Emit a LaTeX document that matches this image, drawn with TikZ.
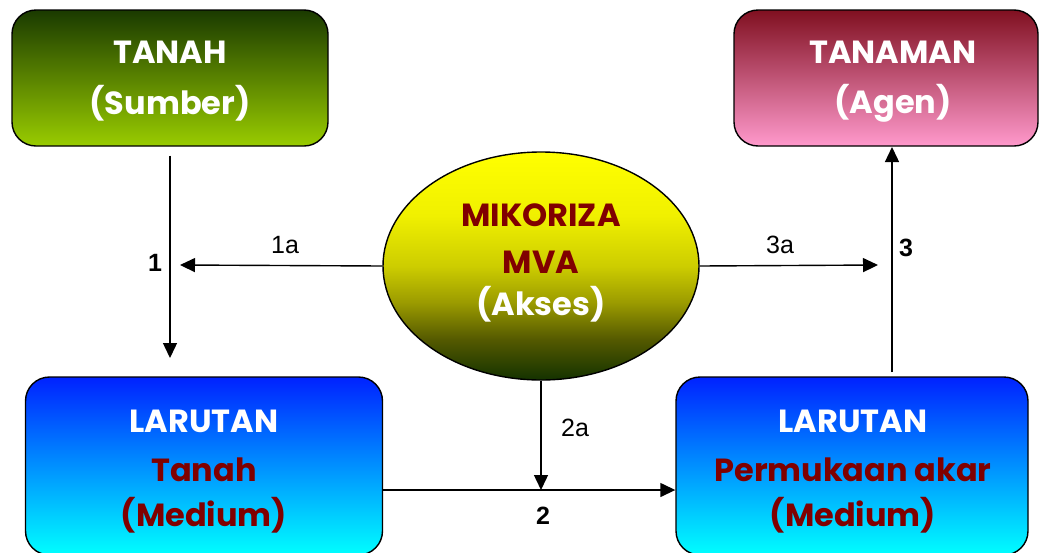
\documentclass[tikz,border=0pt]{standalone}
\usepackage{fontspec}
\setmainfont{Liberation Sans}
\newfontfamily\headfont{Poppins}[UprightFont=* SemiBold, BoldFont=* Bold]
\usetikzlibrary{arrows.meta,shapes.geometric}
\definecolor{maroonTxt}{HTML}{800000}
\definecolor{leafTop}{RGB}{26,58,0}
\definecolor{leafMid}{RGB}{95,140,0}
\definecolor{leafBot}{RGB}{153,204,0}
\definecolor{roseTop}{RGB}{128,16,32}
\definecolor{roseMid}{RGB}{200,100,140}
\definecolor{roseBot}{RGB}{255,153,204}
\definecolor{seaTop}{RGB}{0,34,255}
\definecolor{seaMid}{RGB}{0,195,255}
\definecolor{seaBot}{RGB}{0,255,255}
\definecolor{sunA}{RGB}{20,50,0}
\definecolor{sunB}{RGB}{85,90,0}
\definecolor{sunC}{RGB}{155,155,0}
\definecolor{sunD}{RGB}{205,205,0}
\definecolor{sunE}{RGB}{240,240,0}
\definecolor{sunF}{RGB}{255,255,0}
% yellow fading to dark green in the lower part of the ellipse
\pgfdeclareverticalshading{sunshade}{100bp}{color(0bp)=(sunA); color(25bp)=(sunA);
  color(34bp)=(sunB); color(42bp)=(sunC); color(50bp)=(sunD); color(61bp)=(sunE);
  color(75bp)=(sunF); color(100bp)=(sunF)}
\tikzset{
  x=1pt, y=-1pt,
  box/.style={draw=black, line width=1.4pt, rounded corners=24pt, inner sep=0pt},
  head/.style={font=\headfont\bfseries\fontsize{32}{32}\selectfont, inner sep=0pt},
  white text/.style={head, text=white},
  red text/.style={head, text=maroonTxt},
  lbl/.style={font=\fontsize{25}{25}\selectfont, inner sep=0pt},
  num/.style={font=\bfseries\fontsize{25}{25}\selectfont, inner sep=0pt},
  flow/.style={line width=1.4pt, -{Triangle[length=15pt,width=14pt]}},
}
\begin{document}
\begin{tikzpicture}
\useasboundingbox (0,0) rectangle (1040,552);
\clip (0,0) rectangle (1040,552);

% boxes
\node[box, minimum width=316pt, minimum height=136pt,
      top color=leafTop, middle color=leafMid, bottom color=leafBot]
  (tanah) at (170,78) {};
\node[box, minimum width=304pt, minimum height=136pt,
      top color=roseTop, middle color=roseMid, bottom color=roseBot]
  (tanaman) at (886,78) {};
\node[box, minimum width=357pt, minimum height=178pt,
      top color=seaTop, middle color=seaMid, bottom color=seaBot]
  (larkiri) at (204,466) {};
\node[box, minimum width=352pt, minimum height=178pt,
      top color=seaTop, middle color=seaMid, bottom color=seaBot]
  (larkanan) at (852,466) {};
\node[ellipse, draw=black, line width=1.4pt, minimum width=316pt, minimum height=228pt, inner sep=0pt,
      shading=sunshade]
  (miko) at (541,266) {};

% texts
\node[white text] (t1) at (170,52) {TANAH};
\node[white text] (t2) at (170,103) {(Sumber)};
\node[white text] (t3) at (893,52) {TANAMAN};
\node[white text] (t4) at (893,103) {(Agen)};
\node[red text] (m1) at (541,215) {MIKORIZA};
\node[red text] (m2) at (541,262) {MVA};
\node[white text] (m3) at (541,304) {(Akses)};
\node[white text] (l1) at (204,421) {LARUTAN};
\node[red text] (l2) at (204,470) {Tanah};
\node[red text] (l3) at (204,515) {(Medium)};
\node[white text] (r1) at (853,421) {LARUTAN};
\node[red text] (r2) at (853,470) {Permukaan akar};
\node[red text] (r3) at (853,515) {(Medium)};

% free ends of the connectors
\coordinate (e1) at (170,358);
\coordinate (e1a) at (180,265);
\coordinate (e2a) at (541,490);
\coordinate (e3a) at (878,265);
\coordinate (s3) at (892,372);
\coordinate (e3) at (892,147);

% connectors
\draw[flow, shorten <=9pt] (tanah.south) -- (e1);
\draw[flow] (miko.west) -- (e1a);
\draw[flow] (miko.south) -- (e2a);
\draw[flow] (larkiri.east |- e2a) -- (larkanan.west |- e2a);
\draw[flow] (miko.east) -- (e3a);
\draw[flow] (s3) -- (e3);

% connector labels
\node[num] (n1) at (155,263) {1};
\node[lbl] (n1a) at (285,245) {1a};
\node[lbl] (n2a) at (575,428) {2a};
\node[num] (n2) at (543,516) {2};
\node[lbl] (n3a) at (780,245) {3a};
\node[num] (n3) at (906,248) {3};
\end{tikzpicture}
\end{document}
